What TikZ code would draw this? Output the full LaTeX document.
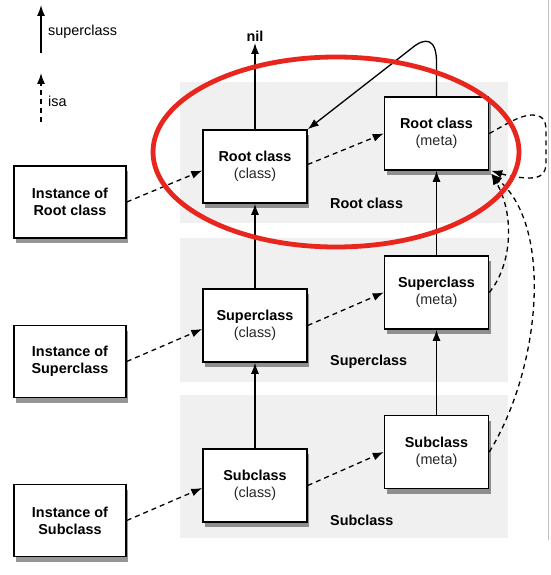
\documentclass[tikz,border=0pt]{standalone}
\usepackage{fontspec}
\setmainfont{Liberation Sans}
\usetikzlibrary{arrows.meta,shadows}
\definecolor{ringred}{RGB}{232,38,30}
\begin{document}
\begin{tikzpicture}[x=1pt,y=-1pt,
  font=\fontsize{14.4}{17}\selectfont,
  box/.style={draw=black,line width=1.5pt,fill=white,minimum width=104pt,minimum height=73pt,inner sep=0pt,align=center,
    drop shadow={shadow xshift=2pt,shadow yshift=-5pt,fill=black!75,opacity=0.55}},
  ibox/.style={box,minimum width=112pt,minimum height=72pt},
  sup/.style={line width=1.3pt,-{Latex[length=11pt,width=8pt]}},
  isa/.style={line width=1.3pt,dash pattern=on 5pt off 4pt,-{Latex[length=11pt,width=8pt]}},
  lab/.style={font=\fontsize{14.4}{17}\selectfont\bfseries,anchor=west,inner sep=0pt}
]
\useasboundingbox (0,0) rectangle (550,575);
\fill[white] (0,0) rectangle (550,575);
\draw[black!25,line width=1pt] (548.5,0) -- (548.5,540);
% panels
\fill[black!6] (180,82) rectangle (508,223);
\fill[black!6] (180,238) rectangle (508,382);
\fill[black!6] (180,395) rectangle (508,538);
\node[lab] (lroot) at (330,203) {Root class};
\node[lab] (lsuper) at (330,362) {Superclass};
\node[lab] (lsub) at (330,520) {Subclass};
% legend
\coordinate (l1b) at (41,53); \coordinate (l1t) at (41,5);
\coordinate (l2b) at (41,122); \coordinate (l2t) at (41,73);
\draw[sup] (l1b) -- (l1t);
\draw[isa] (l2b) -- (l2t);
\node[anchor=west,inner sep=0pt] (tsup) at (48,32) {superclass};
\node[anchor=west,inner sep=0pt] (tisa) at (48,101) {isa};
% boxes
\node[box] (rc) at (255,166.5) {\textbf{Root class}\\\textcolor{black!85}{(class)}};
\node[box] (rm) at (436.5,133.5) {\textbf{Root class}\\\textcolor{black!85}{(meta)}};
\node[ibox] (ri) at (70,202) {\textbf{Instance of}\\\textbf{Root class}};
\node[box] (sc) at (255,325.5) {\textbf{Superclass}\\\textcolor{black!85}{(class)}};
\node[box] (sm) at (436.5,292.5) {\textbf{Superclass}\\\textcolor{black!85}{(meta)}};
\node[ibox] (si) at (70,361.5) {\textbf{Instance of}\\\textbf{Superclass}};
\node[box] (bc) at (255,485.5) {\textbf{Subclass}\\\textcolor{black!85}{(class)}};
\node[box] (bm) at (436.5,452) {\textbf{Subclass}\\\textcolor{black!85}{(meta)}};
\node[ibox] (bi) at (70,520.5) {\textbf{Instance of}\\\textbf{Subclass}};
\node[font=\fontsize{14.4}{17}\selectfont\bfseries,anchor=south,inner sep=1pt] (nil) at (255,43) {nil};
% superclass arrows
\draw[sup] (rc.north) -- (nil.south);
\draw[sup] (sc.north) -- (rc.south);
\draw[sup] (bc.north) -- (sc.south);
\draw[sup] (sm.north) -- (rm.south);
\draw[sup] (bm.north) -- (sm.south);
\draw[sup] (rm.north) -- (436.5,62) .. controls (436.5,38) and (425,37) .. (412,48) -- (rc.north east);
% isa arrows
\draw[isa] (ri.east) -- ([yshift=-4pt]rc.west);
\draw[isa] (si.east) -- ([yshift=-3.5pt]sc.west);
\draw[isa] (bi.east) -- ([yshift=-2.5pt]bc.west);
\draw[isa] ([yshift=2pt]rc.east) -- (rm.west);
\draw[isa] (sc.east) -- (sm.west);
\draw[isa] (bc.east) -- (bm.west);
\draw[isa] (rm.east) .. controls (505,125) and (520,115) .. (532,115) .. controls (542,115) and (546,120) .. (546,130) -- (546,163) .. controls (546,173) and (541,178) .. (530,178) .. controls (515,178) and (502,174) .. ([xshift=2pt]rm.south east);
\draw[isa] (sm.east) .. controls (512,265) and (515,215) .. ([xshift=2pt,yshift=-3pt]rm.south east);
\draw[isa] (bm.east) .. controls (540,370) and (554,228) .. ([xshift=2pt,yshift=-3pt]rm.south east);
% red ellipse
\draw[ringred,line width=4.8pt] (336,152) ellipse [x radius=183, y radius=95];
\end{tikzpicture}
\end{document}
